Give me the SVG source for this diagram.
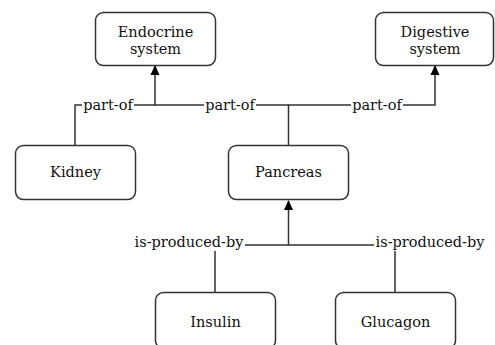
<svg xmlns="http://www.w3.org/2000/svg" width="495" height="345" viewBox="0 0 495 345">
<defs>
<style>
.box{fill:#fff;stroke:#333;stroke-width:1.5}
.t{font-family:"DejaVu Serif",serif;font-size:14.5px;fill:#111;text-anchor:middle}
.e{fill:none;stroke:#333;stroke-width:1.5}
.lb{fill:#fff}
</style>
<marker id="arr" markerWidth="10" markerHeight="10" refX="9" refY="5" orient="auto" markerUnits="userSpaceOnUse">
<path d="M0,0.5 L10,5 L0,9.5 Z" fill="#000"/>
</marker>
</defs>
<rect width="495" height="345" fill="#fff"/>
<g id="connectors">
<path class="e" d="M75,145 V105 H155 V66" marker-end="url(#arr)"/>
<path class="e" d="M288.5,145 V105 H155"/>
<path class="e" d="M288.5,105 H435 V66" marker-end="url(#arr)"/>
<path class="e" d="M215,292 V245 H288.5 V201" marker-end="url(#arr)"/>
<path class="e" d="M395,292 V245 H288.5"/>
<rect class="lb" x="82" y="98" width="52" height="15"/>
<text class="t" x="108" y="110">part-of</text>
<rect class="lb" x="204" y="98" width="52" height="15"/>
<text class="t" x="230" y="110">part-of</text>
<rect class="lb" x="351" y="98" width="52" height="15"/>
<text class="t" x="377" y="110">part-of</text>
<rect class="lb" x="133" y="236" width="112" height="15"/>
<text class="t" x="189" y="247">is-produced-by</text>
<rect class="lb" x="374" y="236" width="112" height="15"/>
<text class="t" x="430" y="247">is-produced-by</text>
</g>
<g id="endocrine">
<rect class="box" x="95.5" y="12.5" width="120" height="53" rx="8"/>
<text class="t" x="155.5" y="37">Endocrine</text>
<text class="t" x="155.5" y="54">system</text>
</g>
<g id="digestive">
<rect class="box" x="375.5" y="12.5" width="118" height="53" rx="8"/>
<text class="t" x="435" y="37">Digestive</text>
<text class="t" x="435" y="54">system</text>
</g>
<g id="kidney">
<rect class="box" x="15.5" y="145.5" width="120" height="54" rx="8"/>
<text class="t" x="75.5" y="177">Kidney</text>
</g>
<g id="pancreas">
<rect class="box" x="228.5" y="145.5" width="120" height="54" rx="8"/>
<text class="t" x="288.5" y="177">Pancreas</text>
</g>
<g id="insulin">
<rect class="box" x="155.5" y="292.5" width="120" height="56" rx="8"/>
<text class="t" x="215.5" y="327">Insulin</text>
</g>
<g id="glucagon">
<rect class="box" x="335.5" y="292.5" width="120" height="56" rx="8"/>
<text class="t" x="395.5" y="327">Glucagon</text>
</g>
</svg>
